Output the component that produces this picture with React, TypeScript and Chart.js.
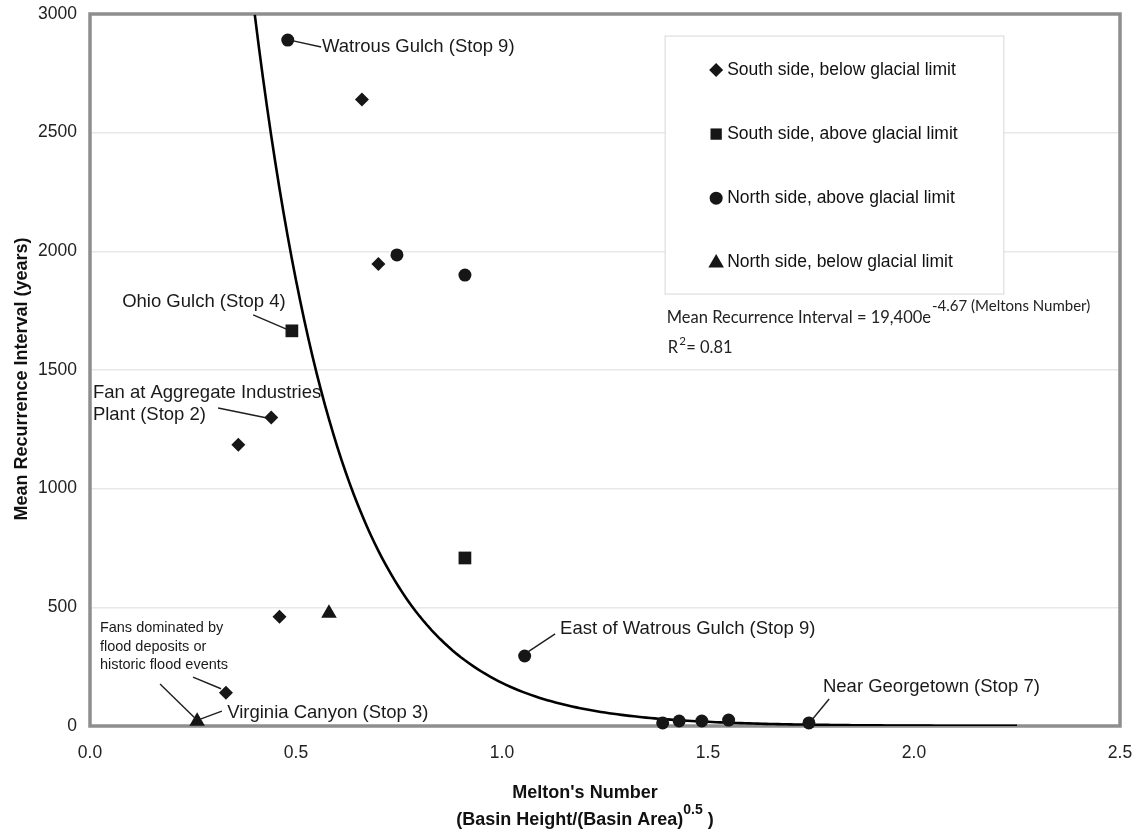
import React, { useEffect, useRef } from 'react';
import { Chart, registerables } from 'chart.js';

Chart.register(...registerables);

// ---------- data ----------
const xTickValues = [0, 0.5, 1.0, 1.5, 2.0, 2.5];
const yTickValues = [0, 500, 1000, 1500, 2000, 2500, 3000];

const southBelowX = [0.66, 0.70, 0.44, 0.36, 0.46, 0.33];
const southBelowY = [2640, 1947, 1300, 1185, 460, 140];

const southAboveX = [0.49, 0.91];
const southAboveY = [1665, 708];

const northAboveX = [0.48, 0.745, 0.91, 1.055, 1.39, 1.43, 1.485, 1.55, 1.745];
const northAboveY = [2890, 1985, 1900, 295, 13, 21, 21, 25, 13];

const northBelowX = [0.58, 0.26];
const northBelowY = [475, 20];

const seriesNames = [
  'South side, below glacial limit',
  'South side, above glacial limit',
  'North side, above glacial limit',
  'North side, below glacial limit',
];

// trend line stated on the chart: MRI = 19,400 e^(-4.67 M)
const trendCoefA = 19400;
const trendCoefK = -4.67;
const trendRange = [0.4, 2.25];

// annotations (text & leader lines in data coordinates)
const annotationTexts = [
  'Watrous Gulch (Stop 9)',
  'Ohio Gulch (Stop 4)',
  'Fan at Aggregate Industries',
  'Plant (Stop 2)',
  'Virginia Canyon (Stop 3)',
  'East of Watrous Gulch (Stop 9)',
  'Near Georgetown (Stop 7)',
];
const annotationAt = [
  [0.563, 2861],
  [0.078, 1786],
  [0.007, 1403],
  [0.007, 1310],
  [0.333, 55],
  [1.141, 409],
  [1.779, 164],
];
const noteLines = ['Fans dominated by', 'flood deposits or', 'historic flood events'];
const noteAt = [[0.024, 413], [0.024, 333], [0.024, 257]];
const leaderLines = [
  [0.485, 2890, 0.561, 2861],
  [0.396, 1732, 0.481, 1669],
  [0.311, 1340, 0.430, 1298],
  [0.170, 177, 0.257, 29],
  [0.250, 206, 0.318, 157],
  [0.320, 63, 0.268, 29],
  [1.063, 312, 1.129, 388],
  [1.752, 25, 1.794, 114],
];

const FONT = '"Liberation Sans", Arial, Helvetica, sans-serif';
const EQ_FONT = 'Lato, "Open Sans", sans-serif';

function toPts(xs: number[], ys: number[]) {
  return xs.map((x, i) => ({ x, y: ys[i] }));
}

function buildTrend() {
  const pts: { x: number; y: number }[] = [];
  const n = 185;
  for (let i = 0; i <= n; i++) {
    const x = trendRange[0] + ((trendRange[1] - trendRange[0]) * i) / n;
    pts.push({ x, y: trendCoefA * Math.exp(trendCoefK * x) });
  }
  return pts;
}

function drawMarker(ctx: CanvasRenderingContext2D, style: string, x: number, y: number, r: number) {
  ctx.beginPath();
  if (style === 'rectRot') {
    ctx.moveTo(x - r, y);
    ctx.lineTo(x, y - r);
    ctx.lineTo(x + r, y);
    ctx.lineTo(x, y + r);
    ctx.closePath();
  } else if (style === 'rect') {
    const s = Math.SQRT1_2 * r;
    ctx.rect(x - s, y - s, 2 * s, 2 * s);
  } else if (style === 'circle') {
    ctx.arc(x, y, r, 0, Math.PI * 2);
  } else if (style === 'triangle') {
    let a = 0;
    ctx.moveTo(x + Math.sin(a) * r, y - Math.cos(a) * r);
    a += (2 * Math.PI) / 3;
    ctx.lineTo(x + Math.sin(a) * r, y - Math.cos(a) * r);
    a += (2 * Math.PI) / 3;
    ctx.lineTo(x + Math.sin(a) * r, y - Math.cos(a) * r);
    ctx.closePath();
  }
  ctx.fill();
}

const markerStyles = ['rectRot', 'rect', 'circle', 'triangle'];
const markerRadii = [7, 9, 6.5, 9];
const MARK = '#161616';

const decorPlugin = {
  id: 'decor',
  beforeDatasetsDraw(chart: any) {
    const { ctx, chartArea: a } = chart;
    ctx.save();
    ctx.strokeStyle = '#8e8e8e';
    ctx.lineWidth = 3.5;
    ctx.strokeRect(a.left, a.top, a.right - a.left, a.bottom - a.top);
    ctx.restore();
  },
  afterDatasetsDraw(chart: any) {
    const { ctx } = chart;
    const xs = chart.scales.x;
    const ys = chart.scales.y;
    const px = (v: number) => xs.getPixelForValue(v);
    const py = (v: number) => ys.getPixelForValue(v);
    ctx.save();

    // leader lines
    ctx.strokeStyle = '#1e1e1e';
    ctx.lineWidth = 1.4;
    leaderLines.forEach((l) => {
      ctx.beginPath();
      ctx.moveTo(px(l[0]), py(l[1]));
      ctx.lineTo(px(l[2]), py(l[3]));
      ctx.stroke();
    });

    // annotation texts
    ctx.fillStyle = '#1a1a1a';
    ctx.textBaseline = 'middle';
    ctx.textAlign = 'left';
    ctx.font = `18.5px ${FONT}`;
    annotationTexts.forEach((t, i) => {
      ctx.fillText(t, px(annotationAt[i][0]), py(annotationAt[i][1]));
    });
    ctx.font = `14.5px ${FONT}`;
    noteLines.forEach((t, i) => {
      ctx.fillText(t, px(noteAt[i][0]), py(noteAt[i][1]));
    });

    // legend box
    const bx = px(1.396);
    const bx2 = px(2.218);
    const by = py(2907);
    const by2 = py(1820);
    ctx.fillStyle = '#ffffff';
    ctx.fillRect(bx, by, bx2 - bx, by2 - by);
    ctx.strokeStyle = '#dedede';
    ctx.lineWidth = 1.2;
    ctx.strokeRect(bx, by, bx2 - bx, by2 - by);
    const itemY = [2764, 2494, 2224, 1955];
    seriesNames.forEach((name, i) => {
      const yy = py(itemY[i]);
      ctx.fillStyle = MARK;
      drawMarker(ctx, markerStyles[i], bx + 51, yy + (i === 3 ? 1 : 0), markerRadii[i] - (i === 1 ? 1 : 0));
      ctx.fillStyle = '#111';
      ctx.font = `17.5px ${FONT}`;
      ctx.textBaseline = 'middle';
      ctx.fillText(name, bx + 62, yy);
    });

    // equation
    ctx.fillStyle = '#222';
    ctx.textBaseline = 'alphabetic';
    const ex = px(1.40);
    const eyBase = py(1702) + 1;
    ctx.font = `16.5px ${EQ_FONT}`;
    const eq = 'Mean Recurrence Interval = 19,400e';
    ctx.fillText(eq, ex, eyBase);
    const ew = ctx.measureText(eq).width;
    ctx.font = `15px ${EQ_FONT}`;
    ctx.fillText('-4.67 (Meltons Number)', ex + ew + 1, eyBase - 12);
    const ry = py(1575) + 1;
    ctx.font = `16.5px ${EQ_FONT}`;
    ctx.fillText('R', ex + 1, ry);
    const rw = ctx.measureText('R').width;
    ctx.font = `11.5px ${EQ_FONT}`;
    ctx.fillText('2', ex + 1 + rw + 1, ry - 8);
    ctx.font = `16.5px ${EQ_FONT}`;
    ctx.fillText('= 0.81', ex + 1 + rw + 8, ry);

    // axis titles
    ctx.fillStyle = '#111';
    ctx.font = `bold 18px ${FONT}`;
    ctx.textAlign = 'center';
    ctx.textBaseline = 'middle';
    ctx.save();
    ctx.translate(22, 379);
    ctx.rotate(-Math.PI / 2);
    ctx.fillText('Mean Recurrence Interval (years)', 0, 0);
    ctx.restore();

    const cx = 585;
    ctx.font = `bold 18px ${FONT}`;
    ctx.fillText("Melton's Number", cx, 793);
    const p1 = '(Basin Height/(Basin Area)';
    const p3 = ' )';
    const w1 = ctx.measureText(p1).width;
    const w3 = ctx.measureText(p3).width;
    ctx.font = `bold 14px ${FONT}`;
    const w2 = ctx.measureText('0.5').width;
    const total = w1 + w2 + w3;
    let sx = cx - total / 2;
    ctx.textAlign = 'left';
    ctx.font = `bold 18px ${FONT}`;
    ctx.fillText(p1, sx, 820);
    sx += w1;
    ctx.font = `bold 14px ${FONT}`;
    ctx.fillText('0.5', sx, 810);
    sx += w2;
    ctx.font = `bold 18px ${FONT}`;
    ctx.fillText(p3, sx, 820);

    ctx.restore();
  },
};

export default function App() {
  const ref = useRef<HTMLCanvasElement | null>(null);
  useEffect(() => {
    if (!ref.current) return;
    const pointDs = (label: string, xs: number[], ys: number[], idx: number) => ({
      label,
      data: toPts(xs, ys),
      pointStyle: markerStyles[idx],
      pointRadius: markerRadii[idx],
      pointBackgroundColor: MARK,
      pointBorderColor: MARK,
      pointBorderWidth: 0,
      showLine: false,
      clip: false,
    });
    const chart = new Chart(ref.current, {
      type: 'scatter',
      data: {
        datasets: [
          {
            label: 'trend',
            data: buildTrend(),
            showLine: true,
            borderColor: '#000',
            borderWidth: 2.6,
            pointRadius: 0,
            tension: 0,
            order: 5,
          } as any,
          pointDs(seriesNames[0], southBelowX, southBelowY, 0),
          pointDs(seriesNames[1], southAboveX, southAboveY, 1),
          pointDs(seriesNames[2], northAboveX, northAboveY, 2),
          pointDs(seriesNames[3], northBelowX, northBelowY, 3),
        ],
      },
      options: {
        animation: false,
        responsive: false,
        devicePixelRatio: 1,
        layout: { padding: { left: 0, right: 17, top: 14, bottom: 0 } },
        plugins: {
          legend: { display: false },
          tooltip: { enabled: false },
          title: { display: false },
        },
        scales: {
          x: {
            type: 'linear',
            min: 0,
            max: 2.5,
            afterFit: (axis: any) => {
              axis.height = 104;
              axis.paddingLeft = 0;
              axis.paddingRight = 0;
            },
            afterBuildTicks: (axis: any) => { axis.ticks = xTickValues.map((v) => ({ value: v })); },
            ticks: {
              callback: (v: any) => Number(v).toFixed(1),
              color: '#222',
              font: { family: FONT, size: 17.5 },
              padding: 17,
              maxRotation: 0,
            },
            grid: { display: false, drawTicks: false },
            border: { display: false },
          },
          y: {
            type: 'linear',
            min: 0,
            max: 3000,
            afterFit: (axis: any) => {
              axis.width = 90;
              axis.paddingTop = 0;
              axis.paddingBottom = 0;
            },
            afterBuildTicks: (axis: any) => { axis.ticks = yTickValues.map((v) => ({ value: v })); },
            ticks: {
              callback: (v: any) => String(v),
              color: '#222',
              font: { family: FONT, size: 17.5 },
              padding: 13,
            },
            grid: { color: '#e8e8e8', lineWidth: 1.5, drawTicks: false },
            border: { display: false },
          },
        },
      },
      plugins: [decorPlugin],
    } as any);
    return () => chart.destroy();
  }, []);
  return (
    <div style={{ position: 'absolute', left: 0, top: 0, width: 1137, height: 830, background: '#fff' }}>
      <canvas ref={ref} width={1137} height={830} style={{ width: 1137, height: 830, display: 'block' }} />
    </div>
  );
}
